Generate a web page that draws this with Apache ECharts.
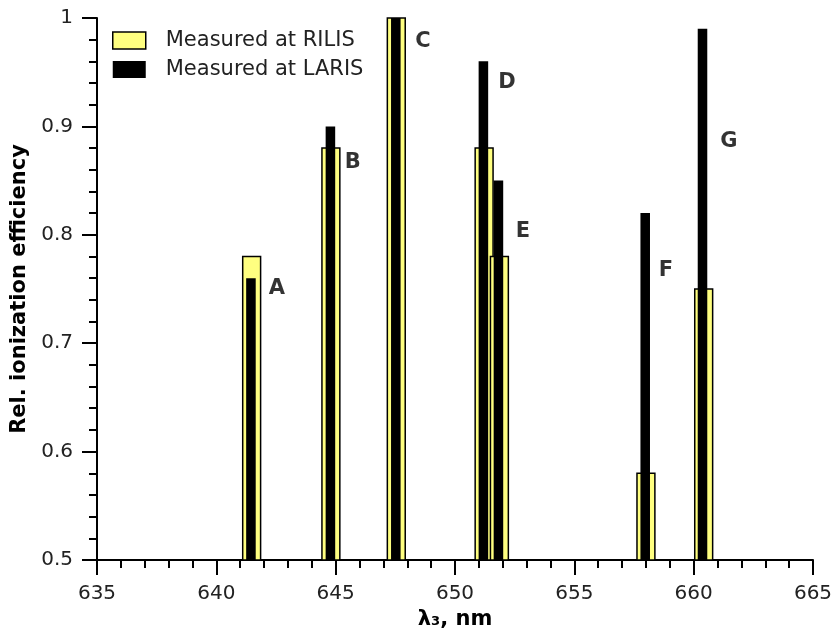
<!DOCTYPE html>
<html>
<head>
<meta charset="utf-8">
<script src="https://cdn.jsdelivr.net/npm/echarts@6/dist/echarts.min.js"></script>
<style>
  html, body { margin: 0; padding: 0; background: #fff; }
  #chartIon { width: 834px; height: 629px; }
</style>
</head>
<body>
<div id="chartIon"></div>
<script>
// line positions (nm) and relative efficiencies
var rilisX = [641.48, 644.80, 647.54, 651.22, 651.86, 658.00, 660.42];
var rilisY = [0.78, 0.88, 1.00, 0.88, 0.78, 0.58, 0.75];
var larisX = [641.45, 644.78, 647.52, 651.19, 651.82, 657.97, 660.37];
var larisY = [0.76, 0.90, 1.00, 0.96, 0.85, 0.82, 0.99];
// peak letters and where they sit
var letters = ['A', 'B', 'C', 'D', 'E', 'F', 'G'];
var letterX = [642.54, 645.72, 648.66, 652.18, 652.85, 658.84, 661.48];
var letterY = [0.750, 0.867, 0.978, 0.940, 0.803, 0.767, 0.886];

var font = 'DejaVu Sans';
var textColor = '#222';

function barRenderer(width) {
  return function(params, api) {
    var x = api.value(0);
    var y = api.value(1);
    var p1 = api.coord([x - width / 2, y]);
    var p2 = api.coord([x + width / 2, 0.5]);
    return {
      type: 'rect',
      shape: { x: p1[0], y: p1[1], width: p2[0] - p1[0], height: p2[1] - p1[1] },
      style: api.style()
    };
  };
}

function pairs(xs, ys) {
  return xs.map(function(x, i) { return [x, ys[i]]; });
}

var option = {
  animation: false,
  grid: { left: 97, right: 21, top: 18, bottom: 69, outerBoundsMode: 'none', containLabel: false },
  legend: {
    orient: 'vertical',
    left: 107,
    top: 25,
    itemWidth: 33,
    itemHeight: 17,
    itemGap: 8,
    textStyle: { fontFamily: font, fontSize: 21, color: textColor, padding: [0, 0, 0, 15] },
    data: [
      { name: 'Measured at RILIS', icon: 'rect', itemStyle: { color: '#ffff80', borderColor: '#000', borderWidth: 1.5 } },
      { name: 'Measured at LARIS', icon: 'rect', itemStyle: { color: '#000' } }
    ]
  },
  xAxis: {
    type: 'value',
    min: 635,
    max: 665,
    interval: 5,
    name: 'λ₃, nm',
    nameLocation: 'middle',
    nameGap: 47,
    nameTextStyle: { fontFamily: font, fontSize: 21, fontWeight: 'bold', color: '#000' },
    axisLine: { lineStyle: { color: '#000', width: 2 } },
    axisTick: { length: 15, lineStyle: { color: '#000', width: 2 } },
    minorTick: { show: true, splitNumber: 5, length: 8, lineStyle: { color: '#000', width: 2 } },
    axisLabel: { fontFamily: font, fontSize: 20, color: textColor, margin: 24 },
    splitLine: { show: false }
  },
  yAxis: {
    type: 'value',
    min: 0.5,
    max: 1,
    interval: 0.1,
    name: 'Rel. ionization efficiency',
    nameLocation: 'middle',
    nameGap: 60,
    nameTextStyle: { fontFamily: font, fontSize: 21, fontWeight: 'bold', color: '#000' },
    axisLine: { show: true, lineStyle: { color: '#000', width: 2 } },
    axisTick: { show: true, length: 15, lineStyle: { color: '#000', width: 2 } },
    minorTick: { show: true, splitNumber: 5, length: 8, lineStyle: { color: '#000', width: 2 } },
    axisLabel: { fontFamily: font, fontSize: 20, color: textColor, margin: 24 },
    splitLine: { show: false }
  },
  series: [
    {
      name: 'Measured at RILIS',
      type: 'custom',
      renderItem: barRenderer(0.75),
      encode: { x: 0, y: 1 },
      itemStyle: { color: '#ffff80', borderColor: '#000', borderWidth: 1.5 },
      data: pairs(rilisX, rilisY)
    },
    {
      name: 'Measured at LARIS',
      type: 'custom',
      renderItem: barRenderer(0.4),
      encode: { x: 0, y: 1 },
      itemStyle: { color: '#000' },
      data: pairs(larisX, larisY)
    },
    {
      name: 'letters',
      type: 'scatter',
      symbolSize: 0,
      silent: true,
      label: {
        show: true,
        position: 'inside',
        fontFamily: font,
        fontSize: 21,
        fontWeight: 'bold',
        color: '#000',
        formatter: function(p) { return p.data[2]; }
      },
      data: letterX.map(function(x, i) { return [x, letterY[i], letters[i]]; })
    }
  ]
};

var chartIon = echarts.init(document.getElementById('chartIon'));
chartIon.setOption(option);
window.addEventListener('resize', function() {
  chartIon.resize();
});
</script>
</body>
</html>
